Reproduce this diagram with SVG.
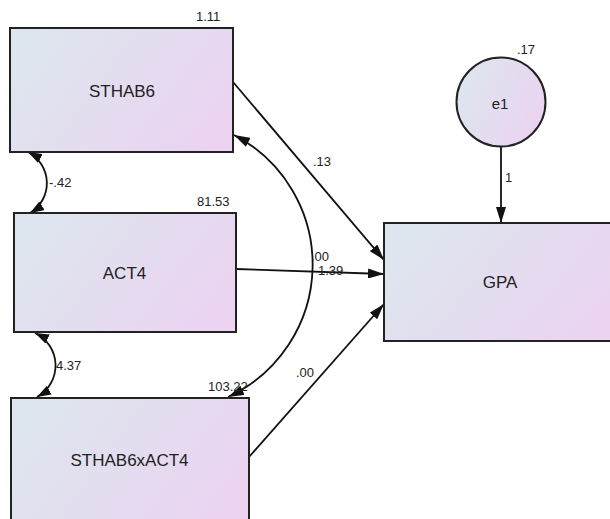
<svg xmlns="http://www.w3.org/2000/svg" width="610" height="519" viewBox="0 0 610 519">
<defs>
<linearGradient id="fill" x1="0" y1="0.3" x2="1" y2="0.7">
<stop offset="0" stop-color="#dde6ee"/>
<stop offset="1" stop-color="#ebd3f1"/>
</linearGradient>
<marker id="ah" viewBox="0 0 16 10" refX="16" refY="5" markerWidth="16" markerHeight="10" markerUnits="userSpaceOnUse" orient="auto-start-reverse">
<path d="M0,0 L16,5 L0,10 z" fill="#111"/>
</marker>
<marker id="ahs" viewBox="0 0 14 10" refX="14" refY="5" markerWidth="14" markerHeight="10" markerUnits="userSpaceOnUse" orient="auto-start-reverse">
<path d="M0,0 L14,5 L0,10 z" fill="#111"/>
</marker>
</defs>
<style>
.box{fill:url(#fill);stroke:#222;stroke-width:2}
.lbl{font-family:"Liberation Sans",Arial,sans-serif;font-size:17px;fill:#222;text-anchor:middle}
.num{font-family:"Liberation Sans",Arial,sans-serif;font-size:13px;fill:#222}
.con{fill:none;stroke:#111;stroke-width:1.8}
</style>
<rect width="610" height="519" fill="#fff"/>
<g id="connectors">
<path class="con" d="M233,82 L384,260" marker-end="url(#ah)"/>
<path class="con" d="M236,269 L384,274" marker-end="url(#ah)"/>
<path class="con" d="M249,457 L384,304" marker-end="url(#ah)"/>
<path class="con" d="M501,146.5 L501,223" marker-end="url(#ah)"/>
<path class="con" d="M234,135 A146,146 0 0 1 228,397" marker-start="url(#ah)" marker-end="url(#ah)"/>
<path class="con" d="M28,152 A35,35 0 0 1 30,213" marker-start="url(#ahs)" marker-end="url(#ahs)"/>
<path class="con" d="M35,333 A36,36 0 0 1 37,397" marker-start="url(#ahs)" marker-end="url(#ahs)"/>
<text class="num" x="313" y="166">.13</text>
<text class="num" x="311" y="261">.00</text>
<text class="num" x="318" y="275">1.39</text>
<text class="num" x="296" y="377">.00</text>
<text class="num" x="505" y="182">1</text>
<text class="num" x="49" y="187">-.42</text>
<text class="num" x="56" y="370">4.37</text>
</g>
<g id="STHAB6">
<rect class="box" x="10" y="28" width="223" height="124"/>
<text class="lbl" x="122" y="97">STHAB6</text>
<text class="num" x="196" y="21">1.11</text>
</g>
<g id="ACT4">
<rect class="box" x="14" y="213" width="222" height="119"/>
<text class="lbl" x="124.5" y="279">ACT4</text>
<text class="num" x="197" y="206">81.53</text>
</g>
<g id="STHAB6xACT4">
<rect class="box" x="11" y="398" width="238" height="130"/>
<text class="lbl" x="129.5" y="466">STHAB6xACT4</text>
<text class="num" x="208" y="391">103.22</text>
</g>
<g id="GPA">
<rect class="box" x="384" y="223" width="240" height="118"/>
<text class="lbl" x="500" y="288">GPA</text>
</g>
<g id="e1">
<circle class="box" cx="501" cy="102" r="44.5"/>
<text class="lbl" x="500" y="109" style="font-size:15px">e1</text>
<text class="num" x="517" y="54">.17</text>
</g>
</svg>
